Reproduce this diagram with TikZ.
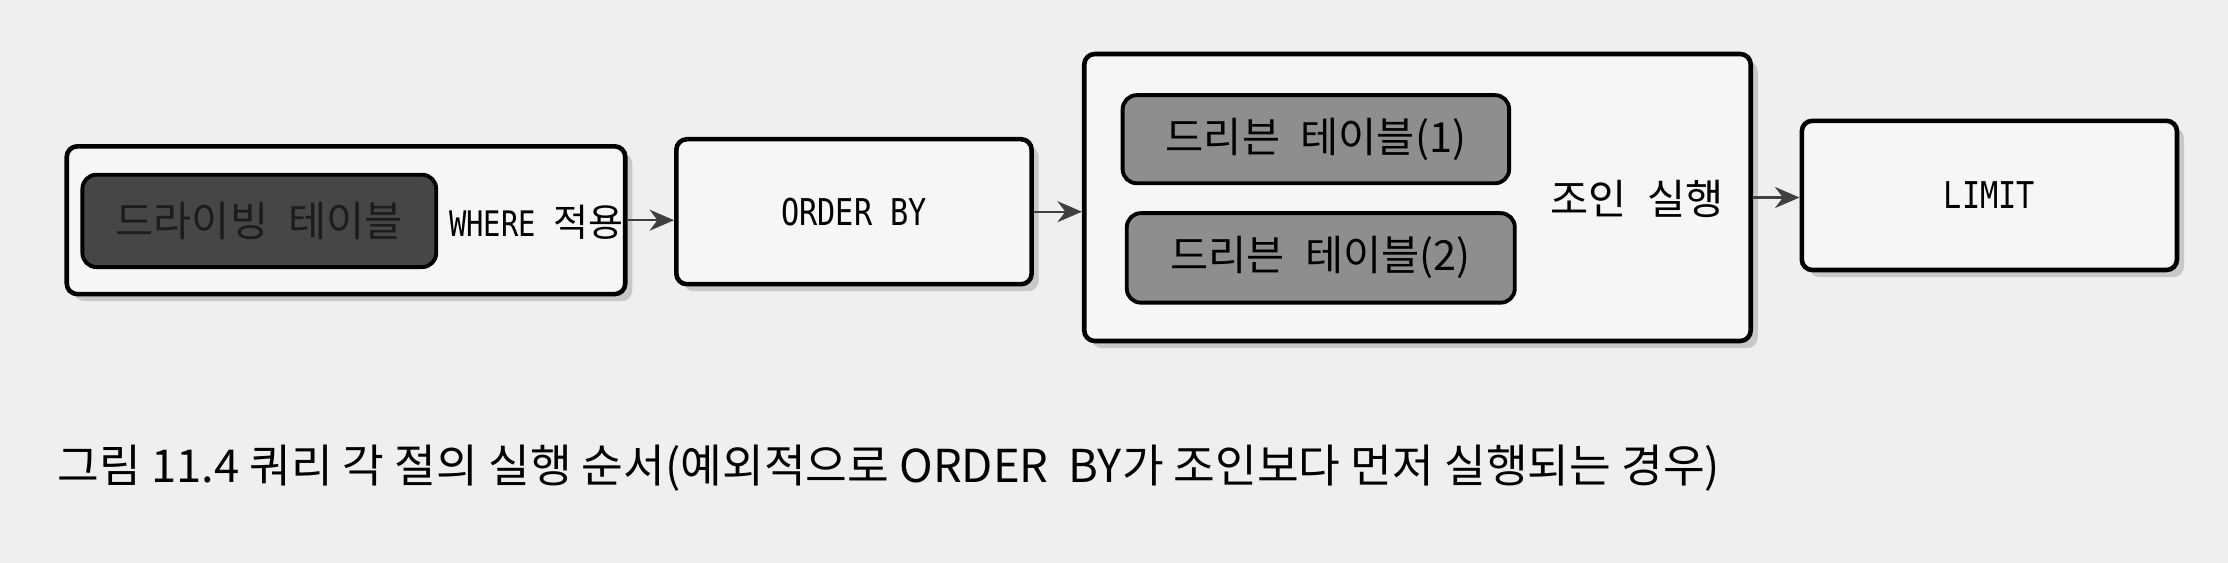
\documentclass[tikz,border=0pt]{standalone}
\usepackage{fontspec}
\setmainfont{Noto Sans CJK KR}
\setmonofont[FakeStretch=0.82]{DejaVu Sans Mono}
\newfontfamily\cjk[WordSpace=2.2]{Noto Sans CJK KR}
\usetikzlibrary{arrows.meta,shadows}
\definecolor{pagebg}{HTML}{EFEFEF}
\definecolor{boxfill}{HTML}{F6F6F6}
\definecolor{drivingfill}{HTML}{464646}
\definecolor{drivingtext}{HTML}{1C1C1C}
\definecolor{drivenfill}{HTML}{8E8E8E}
\tikzset{
  stagebox/.style={draw=black, line width=1.3pt, rounded corners=3pt, fill=boxfill,
    drop shadow={opacity=0.35, shadow xshift=2pt, shadow yshift=-2pt}},
  tablebox/.style={draw=black, line width=1.1pt, rounded corners=4pt},
  flow/.style={-{Stealth[length=7pt,width=6pt]}, line width=0.6pt, black!75},
  hangul/.style={font=\fontsize{11.8}{13}\selectfont\cjk}
}
\begin{document}
\begin{tikzpicture}[every node/.style={font=\fontsize{10.5}{12}\selectfont}]
  \fill[pagebg] (0,0) rectangle (22.28,5.627);
  \useasboundingbox (0,0) rectangle (22.28,5.627);
  % stage 1: driving table + WHERE
  \node[stagebox, minimum width=5.585cm, minimum height=1.478cm] (where) at (3.46,3.425) {};
  \node[tablebox, hangul, fill=drivingfill, text=drivingtext, minimum width=3.538cm, minimum height=0.924cm] (driving) at (2.593,3.418) {드라이빙 테이블};
  \node[inner sep=0pt] (wherelbl) at (5.36,3.40) {\fontsize{10}{12}\selectfont\ttfamily WHERE {\fontsize{10.8}{12}\selectfont\cjk 적용}};
  % stage 2: ORDER BY
  \node[stagebox, minimum width=3.553cm, minimum height=1.45cm] (orderby) at (8.54,3.51) {\ttfamily ORDER BY};
  % stage 3: join
  \node[stagebox, minimum width=6.665cm, minimum height=2.87cm] (join) at (14.175,3.652) {};
  \node[tablebox, hangul, fill=drivenfill, minimum width=3.865cm, minimum height=0.881cm] (driven1) at (13.159,4.235) {드리븐 테이블(1)};
  \node[tablebox, hangul, fill=drivenfill, minimum width=3.88cm, minimum height=0.895cm] (driven2) at (13.208,3.048) {드리븐 테이블(2)};
  \node[hangul] (joinlbl) at (16.37,3.638) {조인 실행};
  % stage 4: LIMIT
  \node[stagebox, minimum width=3.752cm, minimum height=1.492cm] (limit) at (19.894,3.673) {\ttfamily LIMIT};
  % connectors
  \draw[flow] (where.east) -- (where.east -| orderby.west);
  \draw[flow] (orderby.east) -- (orderby.east -| join.west);
  \draw[flow] (join.east) -- (join.east -| limit.west);
  % caption
  \node[anchor=base west, inner sep=0pt, font=\fontsize{12.9}{14}\selectfont] (caption) at (0.568,0.80)
    {그림 11.4 쿼리 각 절의 실행 순서(예외적으로 ORDER\ \ BY가 조인보다 먼저 실행되는 경우)};
\end{tikzpicture}
\end{document}
